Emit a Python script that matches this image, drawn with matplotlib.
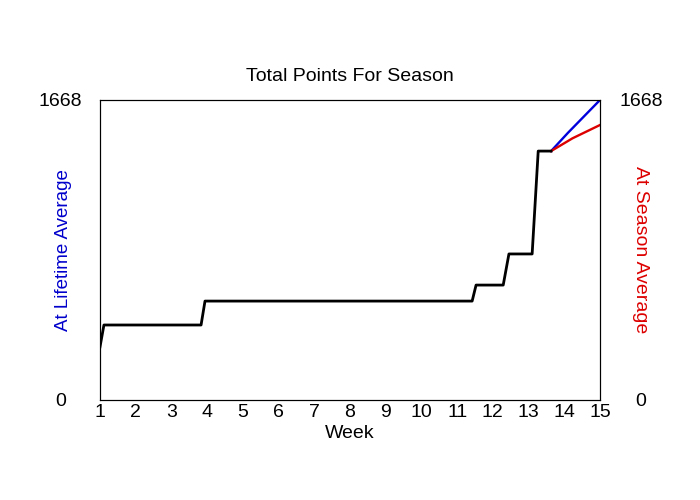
import matplotlib.pyplot as plt

plt.rcParams['font.family'] = ['Liberation Sans', 'DejaVu Sans']

# season total
week = [1.0, 1.11, 3.83, 3.94, 11.42, 11.53, 12.29, 12.45, 13.10, 13.27, 13.63]
points = [295, 417, 417, 550, 550, 639, 639, 812, 812, 1384, 1384]

# projections to end of season
lifetime_week = [13.63, 14.1, 15.0]
lifetime_pts = [1384, 1485, 1668]
season_week = [13.63, 14.23, 15.0]
season_pts = [1384, 1455, 1529]

y_max = 1668

fig = plt.figure(figsize=(7, 5), dpi=100)
ax = fig.add_axes([100 / 700, 100 / 500, 500 / 700, 300 / 500])

ax.plot(lifetime_week, lifetime_pts, color='#0000dd', lw=1.7)
ax.plot(season_week, season_pts, color='#dd0000', lw=1.7)
ax.plot(week, points, color='black', lw=2)

ax.set_xlim(1, 15)
ax.set_ylim(0, y_max)
ax.set_xticks(range(1, 16))
ax.set_yticks([0, y_max])
ax.tick_params(axis='x', length=0, labelsize=14, pad=3)
ax.tick_params(axis='y', length=0, labelsize=14, pad=28.5)
for lbl in ax.get_yticklabels():
    lbl.set_ha('center')
ax.set_xlabel('Week', fontsize=14, labelpad=3)
ax.set_ylabel('At Lifetime Average', color='#0000cc', fontsize=13.5, va='center')
ax.yaxis.set_label_coords(-37 / 500, 0.5)
ax.set_title('Total Points For Season', fontsize=14, pad=14)

ax2 = ax.twinx()
ax2.set_ylim(0, y_max)
ax2.set_yticks([0, y_max])
ax2.tick_params(length=0, labelsize=14, pad=29.5)
for lbl in ax2.get_yticklabels():
    lbl.set_ha('center')
ax2.set_ylabel('At Season Average', color='#dd0000', fontsize=14, rotation=270,
               va='center')
ax2.yaxis.set_label_coords(1 + 41 / 500, 0.5)

fig.savefig('out.png', dpi=100)
